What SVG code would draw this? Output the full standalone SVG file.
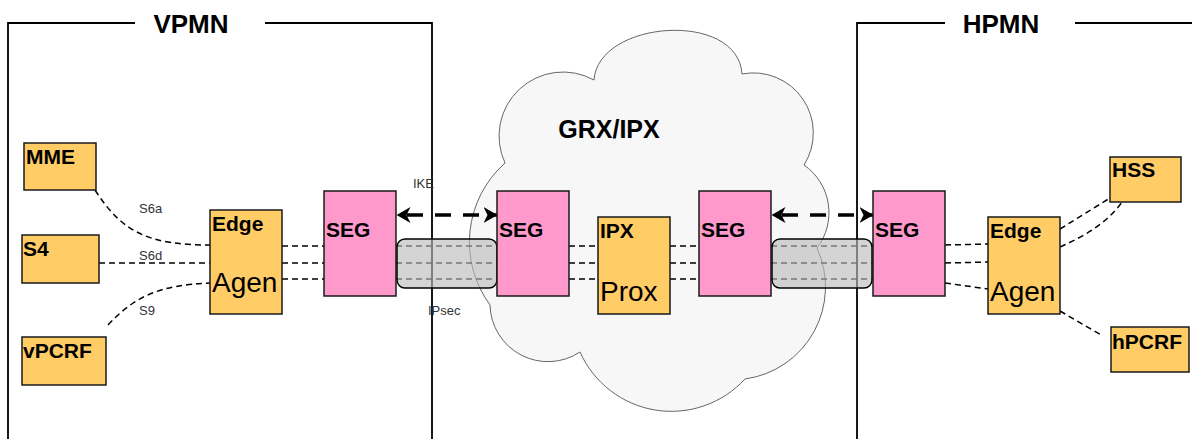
<svg xmlns="http://www.w3.org/2000/svg" width="1192" height="439" viewBox="0 0 1192 439">
<style>
.t{font-family:"Liberation Sans",Arial,sans-serif;fill:#000}
.b{font-weight:bold;font-size:21px}
.big{font-size:28px}
.lbl{font-size:13px;fill:#333}
.title{font-weight:bold;font-size:26px}
.org{fill:#ffcc66;stroke:#1a1a1a;stroke-width:1.5}
.pnk{fill:#ff99cc;stroke:#1a1a1a;stroke-width:1.5}
.dl{fill:none;stroke:#000;stroke-width:1.5;stroke-dasharray:6 4}
.ike{fill:none;stroke:#000;stroke-width:3.5;stroke-dasharray:16 12;stroke-dashoffset:18}
.tun{fill:#bbbbbb;fill-opacity:0.635;stroke:#000;stroke-width:1.5}
</style>
<defs>
<marker id="arr" viewBox="0 0 14 16" refX="13.5" refY="8" markerWidth="14" markerHeight="16" markerUnits="userSpaceOnUse" orient="auto-start-reverse">
<path d="M0,0 L14,8 L0,16 L4,8 Z" fill="#000"/>
</marker>
</defs>
<rect width="1192" height="439" fill="#fff"/>
<g id="containers" fill="none" stroke="#000" stroke-width="1.8">
<path d="M8 439 V23 H135 M265 23 H432 V439"/>
<path d="M857 439 V23 H945 M1075 23 H1192"/>
</g>
<g id="container-labels">
<text class="t title" x="191" y="33" text-anchor="middle">VPMN</text>
<text class="t title" x="1001" y="33" text-anchor="middle">HPMN</text>
</g>
<g id="cloud">
<path d="M594 80 C598 20 738 10 742 74 A60 60 0 0 1 804 165 A58 58 0 0 1 817 248 A93 93 0 0 1 745 379 A100 100 0 0 1 580 352 A58 58 0 0 1 490 305 A106 106 0 0 1 505 163 A64 64 0 0 1 594 80 Z" fill="#f7f7f7" stroke="#666" stroke-width="1"/>
<text class="t" x="609" y="138" text-anchor="middle" style="font-weight:bold;font-size:25px">GRX/IPX</text>
</g>
<g id="connectors">
<path class="dl" d="M95 190 C122 232 148 245 210 245"/>
<path class="dl" d="M99 263 H210"/>
<path class="dl" d="M108 325 C135 296 160 285 210 283"/>
<path class="dl" d="M282 246 H324 M282 263 H324 M282 279 H324"/>
<path class="dl" d="M396 246 H497 M396 263 H497 M396 279 H497"/>
<path class="dl" d="M569 246 H598 M569 263 H598 M569 279 H598"/>
<path class="dl" d="M670 246 H699 M670 263 H699 M670 279 H699"/>
<path class="dl" d="M771 246 H873 M771 263 H873 M771 279 H873"/>
<path class="dl" d="M945 245 L988 244 M945 263 L988 262 M945 283 L988 289"/>
<path class="dl" d="M1060 229 L1110 198"/>
<path class="dl" d="M1060 247 C1085 236 1108 222 1122 202"/>
<path class="dl" d="M1060 311 L1103 336"/>
<path class="ike" d="M397 215 H497" marker-start="url(#arr)" marker-end="url(#arr)"/>
<path class="ike" d="M772 215 H873" marker-start="url(#arr)" marker-end="url(#arr)"/>
<text class="t lbl" x="139" y="213">S6a</text>
<text class="t lbl" x="139" y="260">S6d</text>
<text class="t lbl" x="139" y="315">S9</text>
<text class="t lbl" x="413" y="188">IKE</text>
<text class="t lbl" x="428" y="315">IPsec</text>
</g>
<g id="tunnel-left"><rect class="tun" x="397" y="239" width="100" height="49" rx="8"/></g>
<g id="tunnel-right"><rect class="tun" x="772" y="239" width="100" height="49" rx="8"/></g>
<g id="mme"><rect class="org" x="24" y="143" width="72" height="47"/><text class="t b" x="26" y="164">MME</text></g>
<g id="s4"><rect class="org" x="22" y="235" width="77" height="48"/><text class="t b" x="23" y="256">S4</text></g>
<g id="vpcrf"><rect class="org" x="22" y="337" width="84" height="48"/><text class="t b" x="23" y="358">vPCRF</text></g>
<g id="edge-left"><rect class="org" x="210" y="210" width="72" height="104"/><text class="t b" x="212" y="231">Edge</text><text class="t big" x="212" y="292">Agen</text></g>
<g id="seg1"><rect class="pnk" x="324" y="191" width="72" height="105"/><text class="t b" x="326" y="237">SEG</text></g>
<g id="seg2"><rect class="pnk" x="497" y="191" width="72" height="105"/><text class="t b" x="499" y="237">SEG</text></g>
<g id="ipx-prox"><rect class="org" x="598" y="217" width="72" height="97"/><text class="t b" x="600" y="238">IPX</text><text class="t big" x="600" y="301">Prox</text></g>
<g id="seg3"><rect class="pnk" x="699" y="191" width="72" height="105"/><text class="t b" x="701" y="237">SEG</text></g>
<g id="seg4"><rect class="pnk" x="873" y="191" width="72" height="105"/><text class="t b" x="875" y="237">SEG</text></g>
<g id="edge-right"><rect class="org" x="988" y="217" width="72" height="97"/><text class="t b" x="990" y="238">Edge</text><text class="t big" x="990" y="301">Agen</text></g>
<g id="hss"><rect class="org" x="1110" y="157" width="71" height="45"/><text class="t b" x="1112" y="177">HSS</text></g>
<g id="hpcrf"><rect class="org" x="1111" y="327" width="78" height="45"/><text class="t b" x="1112" y="349">hPCRF</text></g>
</svg>
